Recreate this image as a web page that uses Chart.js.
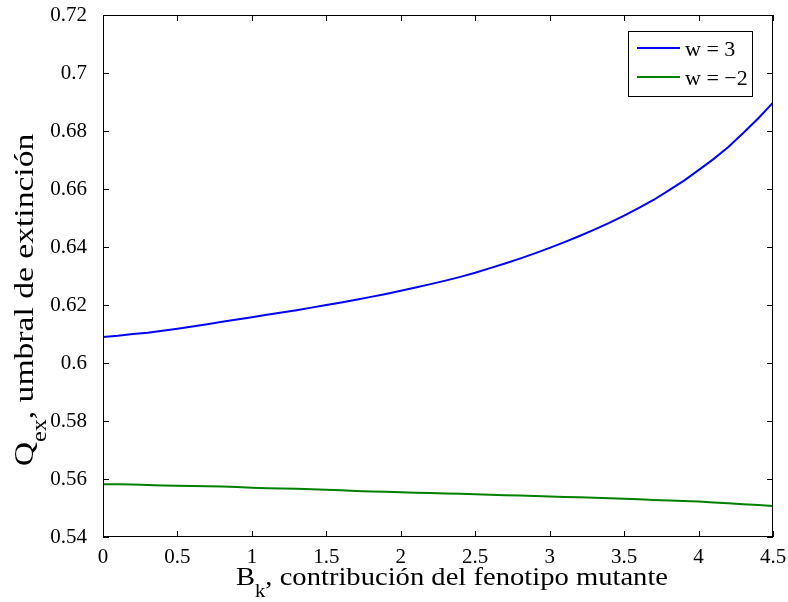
<!DOCTYPE html>
<html>
<head>
<meta charset="utf-8">
<script src="https://cdn.jsdelivr.net/npm/chart.js@4"></script>
<style>
  html, body { margin: 0; padding: 0; background: #fff; }
  #wrap { width: 788px; height: 602px; }
</style>
</head>
<body>
<div id="wrap"><canvas id="qexChart" width="788" height="602"></canvas></div>
<script>
// data
const bk = [0, 0.1, 0.2, 0.3, 0.4, 0.5, 0.6, 0.7, 0.8, 0.9,
    1.0, 1.1, 1.2, 1.3, 1.4, 1.5, 1.6, 1.7, 1.8, 1.9,
    2.0, 2.1, 2.2, 2.3, 2.4, 2.5, 2.6, 2.7, 2.8, 2.9,
    3.0, 3.1, 3.2, 3.3, 3.4, 3.5, 3.6, 3.7, 3.8, 3.9,
    4.0, 4.1, 4.2, 4.3, 4.4, 4.5];
const qexW3 = [0.6090, 0.6094, 0.6100, 0.6104, 0.6111, 0.6118, 0.6126, 0.6134, 0.6142, 0.6150,
    0.6158, 0.6166, 0.6174, 0.6182, 0.6191, 0.6200, 0.6209, 0.6218, 0.6228, 0.6238,
    0.6249, 0.6260, 0.6272, 0.6284, 0.6297, 0.6311, 0.6327, 0.6343, 0.6360, 0.6378,
    0.6397, 0.6417, 0.6438, 0.6460, 0.6483, 0.6508, 0.6535, 0.6563, 0.6595, 0.6628,
    0.6665, 0.6703, 0.6745, 0.6793, 0.6843, 0.6898];
const qexWm2 = [0.5582, 0.5582, 0.5581, 0.5579, 0.5578, 0.5577, 0.5576, 0.5575, 0.5574, 0.5572,
    0.5570, 0.5568, 0.5567, 0.5566, 0.5565, 0.5563, 0.5561, 0.5559, 0.5557, 0.5556,
    0.5554, 0.5553, 0.5552, 0.5550, 0.5549, 0.5547, 0.5546, 0.5544, 0.5543, 0.5541,
    0.5540, 0.5538, 0.5537, 0.5535, 0.5534, 0.5532, 0.5530, 0.5528, 0.5526, 0.5524,
    0.5522, 0.5519, 0.5516, 0.5513, 0.5510, 0.5507];
const seriesNames = ['w = 3', 'w = \u22122'];
const xTicks = [0, 0.5, 1, 1.5, 2, 2.5, 3, 3.5, 4, 4.5];
const yTicks = [0.54, 0.56, 0.58, 0.6, 0.62, 0.64, 0.66, 0.68, 0.7, 0.72];

const serif = '"Liberation Serif", "DejaVu Serif", serif';

function toPoints(xs, ys) {
    return xs.map((x, i) => ({ x: x, y: ys[i] }));
}

// text with a subscript part, centred on cx, baseline at 0; stretch widens it
function richText(ctx, parts, cx, size, stretch) {
    let total = 0;
    parts.forEach(p => {
        ctx.font = (p.sub ? size * 0.72 : size) + 'px ' + serif;
        p.w = ctx.measureText(p.t).width;
        total += p.w;
    });
    ctx.save();
    ctx.translate(cx, 0);
    ctx.scale(stretch, 1);
    let x = -total / 2;
    ctx.textBaseline = 'alphabetic';
    ctx.textAlign = 'left';
    parts.forEach(p => {
        ctx.font = (p.sub ? size * 0.72 : size) + 'px ' + serif;
        ctx.fillText(p.t, x, p.sub ? size * 0.45 : 0);
        x += p.w;
    });
    ctx.restore();
}

const matlabFrame = {
    id: 'matlabFrame',
    afterDraw(chart) {
        const ctx = chart.ctx;
        const a = chart.chartArea;
        const xs = chart.scales.x, ys = chart.scales.y;
        ctx.save();
        ctx.strokeStyle = '#000';
        ctx.lineWidth = 1;
        ctx.strokeRect(a.left + 0.5, a.top + 0.5, a.right - a.left - 1, a.bottom - a.top - 1);
        // inward ticks
        const tl = 6;
        ctx.beginPath();
        xTicks.forEach(v => {
            const px = Math.round(xs.getPixelForValue(v)) + 0.5;
            ctx.moveTo(px, a.bottom); ctx.lineTo(px, a.bottom - tl);
            ctx.moveTo(px, a.top); ctx.lineTo(px, a.top + tl);
        });
        yTicks.forEach(v => {
            const py = Math.round(ys.getPixelForValue(v)) + 0.5;
            ctx.moveTo(a.left, py); ctx.lineTo(a.left + tl, py);
            ctx.moveTo(a.right, py); ctx.lineTo(a.right - tl, py);
        });
        ctx.stroke();

        // legend box
        const lx = 628, ly = 31, lw = 124, lh = 65;
        ctx.fillStyle = '#fff';
        ctx.fillRect(lx, ly, lw, lh);
        ctx.strokeRect(lx + 0.5, ly + 0.5, lw, lh);
        chart.data.datasets.forEach((ds, i) => {
            const yy = ly + 17 + i * 29;
            ctx.strokeStyle = ds.borderColor;
            ctx.lineWidth = 2;
            ctx.beginPath();
            ctx.moveTo(lx + 9, yy); ctx.lineTo(lx + 52, yy);
            ctx.stroke();
            ctx.fillStyle = '#000';
            ctx.font = '22px ' + serif;
            ctx.textAlign = 'left';
            ctx.textBaseline = 'alphabetic';
            ctx.fillText(ds.label, lx + 57, yy + 8);
        });

        // axis titles
        ctx.fillStyle = '#000';
        ctx.save();
        ctx.translate(0, 585);
        richText(ctx, [{ t: 'B' }, { t: 'k', sub: true }, { t: ', contribución del fenotipo mutante' }],
            452, 26, 1.1);
        ctx.restore();
        ctx.save();
        ctx.translate(33, 0);
        ctx.rotate(-Math.PI / 2);
        richText(ctx, [{ t: 'Q' }, { t: 'ex', sub: true }, { t: ', umbral de extinción' }], -300, 28, 1.2);
        ctx.restore();
        ctx.restore();
    }
};

const ctx = document.getElementById('qexChart').getContext('2d');
new Chart(ctx, {
    type: 'line',
    data: {
        datasets: [{
            label: seriesNames[0],
            data: toPoints(bk, qexW3),
            borderColor: '#0000ff',
            borderWidth: 2,
            pointRadius: 0,
            tension: 0,
            fill: false
        }, {
            label: seriesNames[1],
            data: toPoints(bk, qexWm2),
            borderColor: '#008000',
            borderWidth: 2,
            pointRadius: 0,
            tension: 0,
            fill: false
        }]
    },
    options: {
        responsive: false,
        animation: false,
        layout: { padding: { left: 0, right: 15, top: 15, bottom: 0 } },
        plugins: {
            legend: { display: false },
            tooltip: { enabled: false }
        },
        scales: {
            x: {
                type: 'linear',
                min: 0,
                max: 4.5,
                afterBuildTicks: s => { s.ticks = xTicks.map(v => ({ value: v })); },
                afterFit: s => {
                    s.height = 65;
                    s.paddingLeft = 0; s.paddingRight = 0;
                },
                grid: { display: false },
                border: { display: false },
                ticks: {
                    color: '#000',
                    font: { family: serif, size: 21 },
                    padding: 0,
                    maxRotation: 0,
                    callback: v => String(+v.toFixed(1))
                }
            },
            y: {
                type: 'linear',
                min: 0.54,
                max: 0.72,
                afterBuildTicks: s => { s.ticks = yTicks.map(v => ({ value: v })); },
                afterFit: s => {
                    s.width = 103;
                    s.paddingTop = 0; s.paddingBottom = 0;
                },
                grid: { display: false },
                border: { display: false },
                ticks: {
                    color: '#000',
                    font: { family: serif, size: 21 },
                    padding: 8,
                    callback: v => String(+v.toFixed(2))
                }
            }
        }
    },
    plugins: [matlabFrame]
});
</script>
</body>
</html>
